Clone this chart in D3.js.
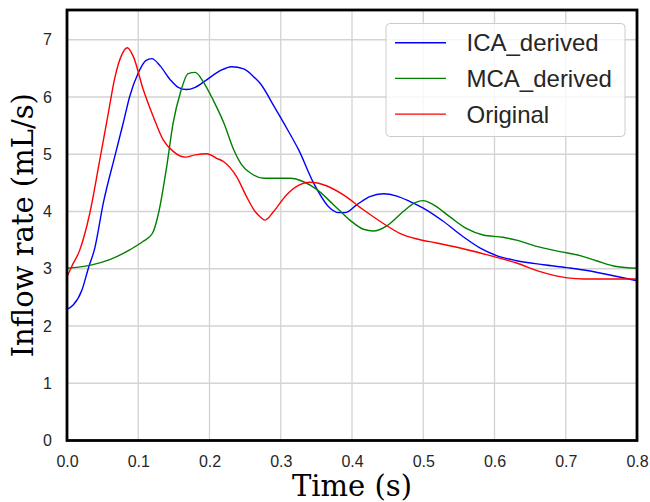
<!DOCTYPE html>
<html><head><meta charset="utf-8">
<script src="https://cdn.jsdelivr.net/npm/d3@7"></script>
<style>body{margin:0;background:#fff}</style>
</head><body>
<svg id="c" width="650" height="502"></svg>
<script>
const xTicks = [0.0,0.1,0.2,0.3,0.4,0.5,0.6,0.7,0.8];
const yTicks = [0,1,2,3,4,5,6,7];
const seriesNames = ["ICA_derived","MCA_derived","Original"];
const seriesColors = ["#0000ff","#008000","#ff0000"];

const icaT = [0,0.009,0.021,0.030,0.039,0.051,0.067,0.079,0.088,0.100,0.111,0.119,0.131,0.145,0.156,0.168,0.180,0.196,0.215,0.231,0.248,0.264,0.271,0.290,0.310,0.325,0.346,0.369,0.381,0.390,0.407,0.425,0.444,0.463,0.482,0.500,0.528,0.556,0.580,0.603,0.631,0.669,0.702,0.730,0.762,0.800];
const icaV = [2.29,2.37,2.63,3.01,3.36,4.15,4.96,5.55,6.01,6.42,6.64,6.67,6.54,6.30,6.17,6.13,6.17,6.30,6.46,6.53,6.49,6.33,6.24,5.85,5.42,5.08,4.50,4.06,3.98,3.98,4.12,4.26,4.31,4.27,4.17,4.06,3.83,3.56,3.36,3.23,3.14,3.07,3.02,2.97,2.89,2.79];

const mcaT = [0,0.032,0.060,0.088,0.107,0.120,0.129,0.140,0.149,0.159,0.170,0.180,0.191,0.205,0.220,0.234,0.245,0.259,0.276,0.313,0.332,0.350,0.374,0.397,0.416,0.430,0.449,0.472,0.488,0.500,0.514,0.537,0.561,0.584,0.612,0.631,0.659,0.692,0.720,0.743,0.771,0.800];
const mcaV = [3.01,3.06,3.16,3.33,3.48,3.62,4.00,4.79,5.55,6.07,6.41,6.43,6.27,5.95,5.55,5.08,4.82,4.66,4.58,4.58,4.52,4.39,4.12,3.85,3.69,3.66,3.75,4.00,4.15,4.19,4.12,3.91,3.70,3.59,3.55,3.50,3.39,3.30,3.23,3.14,3.04,3.01];

const oriT = [0,0.0066,0.018,0.032,0.046,0.058,0.067,0.077,0.0845,0.093,0.107,0.121,0.135,0.149,0.166,0.180,0.196,0.210,0.220,0.238,0.252,0.264,0.271,0.278,0.290,0.308,0.327,0.341,0.364,0.388,0.416,0.444,0.467,0.491,0.519,0.556,0.594,0.631,0.664,0.702,0.725,0.762,0.800];
const oriV = [2.86,3.04,3.33,3.97,4.90,5.72,6.33,6.74,6.86,6.71,6.13,5.66,5.25,5.05,4.95,4.99,5.01,4.93,4.87,4.61,4.26,4.00,3.91,3.85,4.00,4.29,4.47,4.51,4.45,4.29,4.03,3.79,3.62,3.52,3.45,3.35,3.23,3.10,2.95,2.84,2.82,2.82,2.82];

const series = [
  {name: seriesNames[0], color: seriesColors[0], t: icaT, v: icaV},
  {name: seriesNames[1], color: seriesColors[1], t: mcaT, v: mcaV},
  {name: seriesNames[2], color: seriesColors[2], t: oriT, v: oriV}
];

const m = {l:67, r:637, t:10, b:440.5};
const svg = d3.select("#c");
const x = d3.scaleLinear().domain([0,0.8]).range([m.l,m.r]);
const y = d3.scaleLinear().domain([0,7.52]).range([m.b,m.t]);

// grid
const g = svg.append("g");
g.selectAll(".gx").data(xTicks).enter().append("line")
  .attr("x1",d=>x(d)).attr("x2",d=>x(d)).attr("y1",m.t).attr("y2",m.b)
  .attr("stroke","#d3d3d3").attr("stroke-width",1.3);
g.selectAll(".gy").data(yTicks).enter().append("line")
  .attr("y1",d=>y(d)).attr("y2",d=>y(d)).attr("x1",m.l).attr("x2",m.r)
  .attr("stroke","#d3d3d3").attr("stroke-width",1.3);

// lines
const line = d3.line().x(d=>x(d[0])).y(d=>y(d[1])).curve(d3.curveMonotoneX);
series.forEach(s=>{
  svg.append("path").datum(s.t.map((t,i)=>[t,s.v[i]]))
    .attr("d",line).attr("fill","none").attr("stroke",s.color).attr("stroke-width",1.4);
});

// axes
const xAxis = d3.axisBottom(x).tickValues(xTicks).tickFormat(d3.format(".1f")).tickSize(0).tickPadding(15.5);
const yAxis = d3.axisLeft(y).tickValues(yTicks).tickFormat(d3.format("d")).tickSize(0).tickPadding(15);
const ax = svg.append("g").attr("transform",`translate(0,${m.b})`).call(xAxis);
const ay = svg.append("g").attr("transform",`translate(${m.l},0)`).call(yAxis);
[ax,ay].forEach(a=>{
  a.select(".domain").remove();
  a.selectAll("text").attr("font-family","'Liberation Sans', Arial, sans-serif").attr("font-size",16).attr("fill","#262626");
});

// frame
svg.append("rect").attr("x",m.l).attr("y",m.t).attr("width",m.r-m.l).attr("height",m.b-m.t)
  .attr("fill","none").attr("stroke","#000").attr("stroke-width",2.8);

// axis labels
svg.append("text").attr("x",(m.l+m.r)/2).attr("y",495.5).attr("text-anchor","middle")
  .attr("font-family","'DejaVu Serif', serif").attr("font-size",29).attr("fill","#000").text("Time (s)");
svg.append("text").attr("transform",`translate(33,${(m.t+m.b)/2}) rotate(-90)`).attr("text-anchor","middle")
  .attr("font-family","'DejaVu Serif', serif").attr("font-size",29).attr("fill","#000").text("Inflow rate (mL/s)");

// legend
const lg = svg.append("g");
lg.append("rect").attr("x",386).attr("y",23.5).attr("width",239).attr("height",113).attr("rx",4)
  .attr("fill","rgba(255,255,255,0.8)").attr("stroke","#cccccc").attr("stroke-width",1);
series.forEach((s,i)=>{
  const yy = 42.7 + i*35.7;
  lg.append("line").attr("x1",395).attr("x2",446).attr("y1",yy).attr("y2",yy).attr("stroke",s.color).attr("stroke-width",1.4);
  lg.append("text").attr("x",466.5).attr("y",yy).attr("dy","0.36em")
    .attr("font-family","'Liberation Sans', Arial, sans-serif").attr("font-size",24).attr("fill","#262626").text(s.name);
});
</script>
</body></html>
